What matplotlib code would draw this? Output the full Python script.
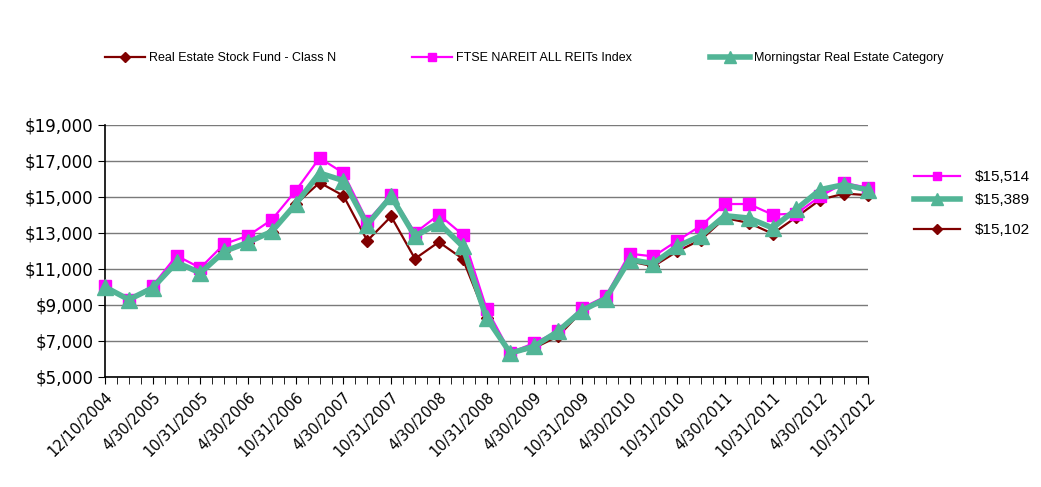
import numpy as np
import matplotlib
matplotlib.use("Agg")
import matplotlib.pyplot as plt
from matplotlib.lines import Line2D
from matplotlib.ticker import FuncFormatter

# quarter-end dates for each point
dates = ["12/10/2004"]
for yr in range(2005, 2013):
    for md in ["1/31", "4/30", "7/31", "10/31"]:
        dates.append(f"{md}/{yr}")

fund = [10000, 9300, 9900, 11400, 10800, 12000, 12450, 13050, 14600, 15800, 15070,
        12570, 13920, 11570, 12500, 11570, 8280, 6300, 6610, 7260, 8650, 9330,
        11430, 11150, 11980, 12630, 13830, 13560, 12960, 13890, 14850, 15190, 15102]
ftse = [10040, 9300, 10070, 11740, 11060, 12390, 12850, 13740, 15350, 17170, 16330,
        13650, 15130, 13000, 14020, 12910, 8800, 6350, 6890, 7540, 8830, 9480,
        11850, 11700, 12570, 13410, 14610, 14610, 14020, 14080, 15040, 15780, 15514]
mstar = [10000, 9300, 9950, 11370, 10780, 11980, 12480, 13090, 14610, 16330, 15910,
         13460, 15040, 12820, 13560, 12260, 8280, 6330, 6700, 7540, 8690, 9350,
         11520, 11300, 12260, 12850, 13960, 13830, 13280, 14330, 15410, 15690, 15389]

names = ["Real Estate Stock Fund - Class N", "FTSE NAREIT ALL REITs Index",
         "Morningstar Real Estate Category"]

c_fund = "#800000"
c_ftse = "#FF00FF"
c_mstar = "#52B596"

fig = plt.figure(figsize=(10.41, 4.87), dpi=100)
ax = fig.add_axes([105 / 1041, 1 - 377 / 487, 763 / 1041, 252 / 487])

x = np.arange(len(dates))
st_fund = dict(color=c_fund, lw=1.6, marker="D", ms=6.5)
st_ftse = dict(color=c_ftse, lw=1.6, marker="s", ms=8.5)
st_mstar = dict(color=c_mstar, lw=4, marker="^", ms=11)
ax.plot(x, fund, clip_on=False, zorder=3, **st_fund)
ax.plot(x, ftse, clip_on=False, zorder=4, **st_ftse)
ax.plot(x, mstar, clip_on=False, zorder=5, **st_mstar)

ax.set_xlim(0, len(dates) - 1)
ax.set_ylim(5000, 19000)
ax.set_yticks(np.arange(5000, 19001, 2000))
ax.yaxis.set_major_formatter(FuncFormatter(lambda v, p: f"${v:,.0f}"))
ax.grid(axis="y", color="#7a7a7a", lw=1)
ax.set_axisbelow(True)
for s in ["top", "right"]:
    ax.spines[s].set_visible(False)
ax.spines["left"].set_linewidth(1.2)
ax.spines["bottom"].set_linewidth(1.2)

ax.set_xticks(x[::2])
ax.set_xticklabels(dates[::2], rotation=45, ha="right", rotation_mode="anchor",
                   fontsize=10.5, family="DejaVu Sans")
ax.set_xticks(np.arange(0, len(dates) - 0.5, 0.5), minor=True)
ax.tick_params(axis="x", which="both", length=5, direction="out", pad=4)
ax.tick_params(axis="y", length=5, labelsize=12)

# top legend, one entry per series
top_pos = [105, 412, 710]
for px, nm, st in zip(top_pos, names, [st_fund, st_ftse, st_mstar]):
    h = Line2D([], [], **dict(st, ms=st["ms"] * 0.75))
    fig.legend([h], [nm], loc="center left", bbox_to_anchor=(px / 1041, 1 - 58 / 487),
               frameon=False, borderpad=0, borderaxespad=0, handlelength=3.2,
               handletextpad=0.3, prop={"family": "Liberation Sans", "size": 9})

# right legend with ending values
end_vals = [ftse[-1], mstar[-1], fund[-1]]
right_pos = [177, 200, 230]
for py, v, st in zip(right_pos, end_vals, [st_ftse, st_mstar, st_fund]):
    h = Line2D([], [], **dict(st, ms=st["ms"] * 0.75))
    fig.legend([h], [f"${v:,.0f}"], loc="center left",
               bbox_to_anchor=(914 / 1041, 1 - py / 487),
               frameon=False, borderpad=0, borderaxespad=0, handlelength=3.0,
               handletextpad=1.0, prop={"family": "Liberation Sans", "size": 11})

fig.savefig("out.png", dpi=100)
